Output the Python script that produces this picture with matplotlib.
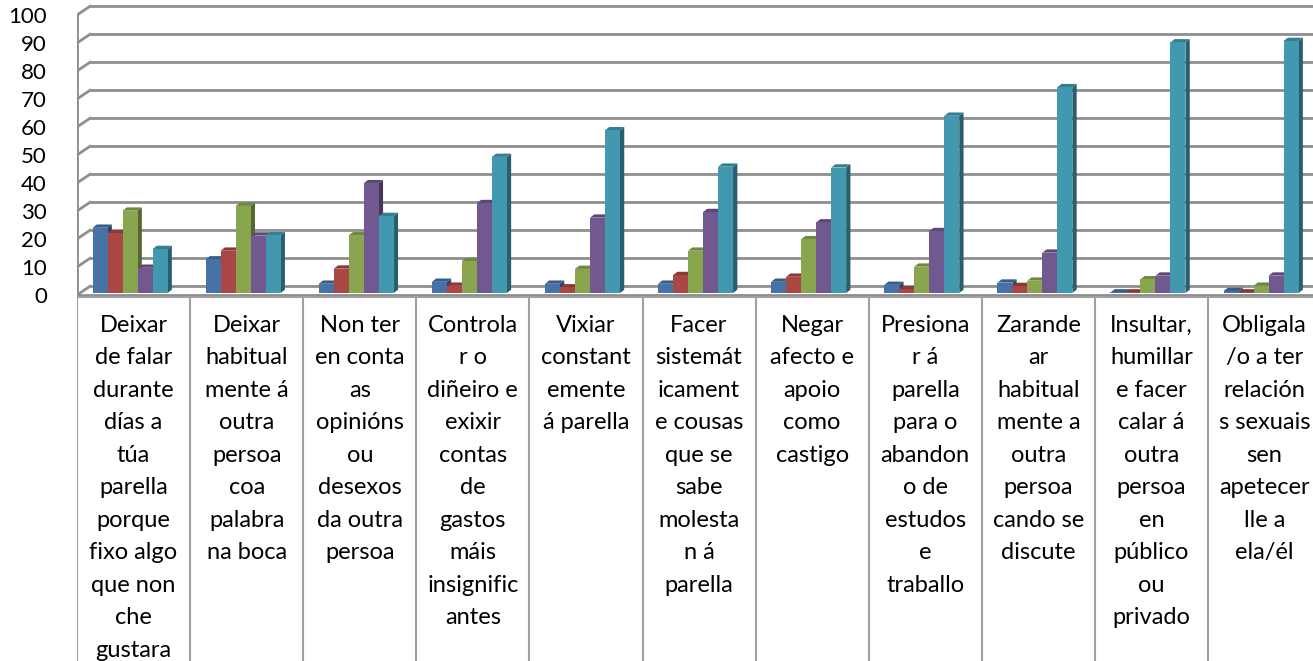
import numpy as np
import matplotlib
matplotlib.use('Agg')
import matplotlib.pyplot as plt
from matplotlib.patches import Polygon
from matplotlib.colors import to_rgb

plt.rcParams['font.family'] = ['Lato', 'DejaVu Sans']

categories = [
    'Deixar\nde falar\ndurante\ndías a\ntúa\nparella\nporque\nfixo algo\nque non\nche\ngustara',
    'Deixar\nhabitual\nmente á\noutra\npersoa\ncoa\npalabra\nna boca',
    'Non ter\nen conta\nas\nopinións\nou\ndesexos\nda outra\npersoa',
    'Controla\nr o\ndiñeiro e\nexixir\ncontas\nde\ngastos\nmáis\ninsignific\nantes',
    'Vixiar\nconstant\nemente\ná parella',
    'Facer\nsistemát\nicament\ne cousas\nque se\nsabe\nmolesta\nn á\nparella',
    'Negar\nafecto e\napoio\ncomo\ncastigo',
    'Presiona\nr á\nparella\npara o\nabandon\no de\nestudos\ne\ntraballo',
    'Zarande\nar\nhabitual\nmente a\noutra\npersoa\ncando se\ndiscute',
    'Insultar,\nhumillar\ne facer\ncalar á\noutra\npersoa\nen\npúblico\nou\nprivado',
    'Obligala\n/o a ter\nrelación\ns sexuais\nsen\napetecer\nlle a\nela/él',
]

serie_1 = [23.3, 12.0, 3.3, 4.0, 3.3, 3.3, 4.0, 2.9, 3.7, 0.2, 0.7]
serie_2 = [21.3, 15.1, 8.7, 2.6, 2.0, 6.4, 5.8, 1.3, 2.5, 0.2, 0.2]
serie_3 = [29.4, 31.1, 20.6, 11.4, 8.6, 15.1, 19.2, 9.4, 4.4, 4.9, 2.6]
serie_4 = [9.0, 20.5, 39.2, 32.1, 26.9, 28.9, 25.2, 22.1, 14.4, 6.2, 6.2]
serie_5 = [15.7, 20.6, 27.5, 48.6, 58.1, 45.1, 44.8, 63.3, 73.5, 89.5, 90.0]

y_ticks = [0, 10, 20, 30, 40, 50, 60, 70, 80, 90, 100]

series = [serie_1, serie_2, serie_3, serie_4, serie_5]
colors = ['#4672A8', '#AA4643', '#89A54E', '#71588F', '#4198AF']

W, H = 1313, 661
PX_X = 113.1          # pixels per category
PX_Y = 2.8            # pixels per value unit
BASE_PX = 293         # pixel row (from top) of value 0 on the bar plane

fig = plt.figure(figsize=(W / 100, H / 100), dpi=100)
ax = fig.add_axes([77 / W, 0, 11 * PX_X / W, 1])
ax.set_xlim(0, 11)
ax.set_ylim((BASE_PX - H) / PX_Y, BASE_PX / PX_Y)
ax.axis('off')

grid_col = '#8e8e8e'
back_dx = 13 / PX_X
back_dy = 6.7 / PX_Y
front_dy = -2 / PX_Y

# back wall + left wall gridlines
for v in y_ticks:
    ax.plot([back_dx, 11], [v + back_dy, v + back_dy], color=grid_col, lw=2, zorder=1,
            solid_capstyle='butt')
    ax.plot([0, back_dx], [v + front_dy, v + back_dy], color=grid_col, lw=2, zorder=1)
ax.plot([0, 0], [front_dy, 100 + front_dy], color=grid_col, lw=2, zorder=1)
# floor front edge
ax.plot([0, 11], [front_dy, front_dy], color=grid_col, lw=2, zorder=1)

# y tick labels
for v in y_ticks:
    ax.text(-30 / PX_X, v - 1.6, str(v), ha='right', va='center', fontsize=16,
            color='black', clip_on=False)

# bars with 3D faces
bar_w = 15 / PX_X
ddx = 4.3 / PX_X
ddy = 3.3 / PX_Y
x = np.arange(len(categories)) + 0.5 - 3.5 / PX_X


def shade(c, f):
    r, g, b = to_rgb(c)
    return (r * f, g * f, b * f)


for i in range(len(categories)):
    for j, (vals, col) in enumerate(zip(series, colors)):
        h = vals[i]
        x0 = x[i] + (j - 2.5) * bar_w
        x1 = x0 + bar_w
        z = 3 + j * 3
        side = Polygon([(x1, 0), (x1 + ddx, ddy), (x1 + ddx, h + ddy), (x1, h)],
                       closed=True, facecolor=shade(col, 0.62), edgecolor='none', zorder=z)
        top = Polygon([(x0, h), (x1, h), (x1 + ddx, h + ddy), (x0 + ddx, h + ddy)],
                      closed=True, facecolor=shade(col, 0.82), edgecolor='none', zorder=z)
        ax.add_patch(side)
        ax.add_patch(top)
        ax.bar(x0, h, width=bar_w, align='edge', color=col, edgecolor='none', zorder=z + 1)

# category table
table_col = '#a0a0a0'
top_y = -1.5
bottom_y = (BASE_PX - H) / PX_Y
ax.plot([0, 11], [top_y, top_y], color=table_col, lw=1.5, zorder=2)
for k in range(12):
    ax.plot([k, k], [top_y, bottom_y], color=table_col, lw=1.5, zorder=2)

for i, label in enumerate(categories):
    for n, line in enumerate(label.split('\n')):
        base_px = 331.7 + 32.5 * n
        ax.text(i + 0.5, (BASE_PX - base_px) / PX_Y, line, ha='center', va='baseline',
                fontsize=17, color='black', clip_on=False)

fig.savefig('out.png', dpi=100)
